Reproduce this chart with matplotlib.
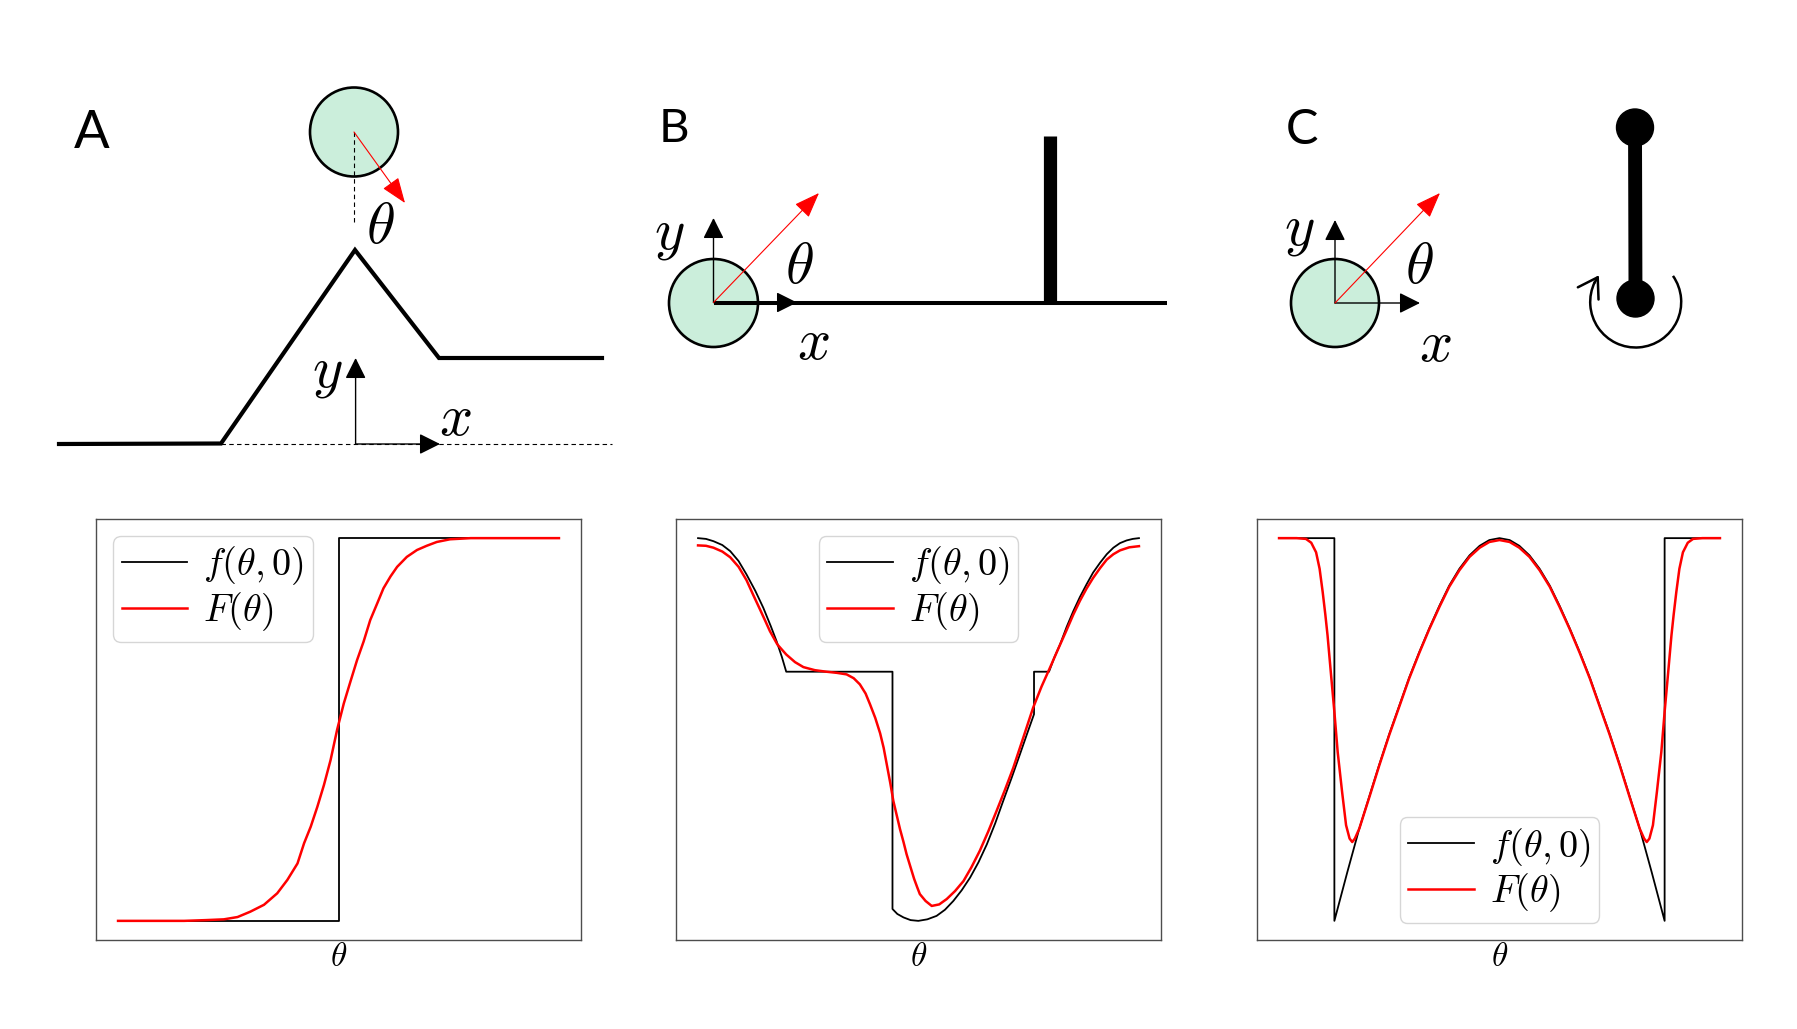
import numpy as np
import matplotlib
matplotlib.use("Agg")
import matplotlib.pyplot as plt
from matplotlib.patches import Ellipse, Circle, Arc

plt.rcParams['mathtext.fontset'] = 'cm'

# ---------------- curve data (normalised theta -> normalised value) ----------------
A_f_theta = [0.0, 0.5, 0.5, 1.0]
A_f_val = [0.0, 0.0, 1.0, 1.0]
A_F_theta = [0.000, 0.150, 0.200, 0.240, 0.271, 0.300, 0.331, 0.361, 0.384, 0.407, 0.422,
             0.437, 0.452, 0.467, 0.482, 0.497, 0.512, 0.527, 0.542, 0.557, 0.572, 0.588,
             0.602, 0.618, 0.633, 0.655, 0.678, 0.700, 0.723, 0.753, 0.800, 0.850, 1.000]
A_F_val = [0.000, 0.000, 0.002, 0.004, 0.010, 0.024, 0.042, 0.072, 0.107, 0.150, 0.203,
           0.246, 0.298, 0.355, 0.420, 0.500, 0.568, 0.625, 0.681, 0.730, 0.786, 0.830,
           0.869, 0.900, 0.925, 0.951, 0.969, 0.980, 0.990, 0.997, 1.000, 1.000, 1.000]

B_f_theta = [0.000, 0.018, 0.035, 0.055, 0.073, 0.092, 0.110, 0.130, 0.148, 0.165, 0.178,
             0.190, 0.200, 0.441, 0.441, 0.452, 0.466, 0.482, 0.4996, 0.520, 0.541, 0.560,
             0.579, 0.598, 0.617, 0.636, 0.655, 0.674, 0.692, 0.711, 0.730, 0.746, 0.762,
             0.762, 0.796, 0.808, 0.821, 0.836, 0.851, 0.866, 0.881, 0.896, 0.912, 0.927,
             0.942, 0.957, 0.972, 0.986, 1.000]
B_f_val = [1.000, 0.998, 0.992, 0.982, 0.966, 0.940, 0.905, 0.862, 0.818, 0.770, 0.731,
           0.690, 0.651, 0.651, 0.031, 0.018, 0.009, 0.002, 0.000, 0.004, 0.013, 0.029,
           0.052, 0.080, 0.113, 0.153, 0.200, 0.255, 0.313, 0.373, 0.435, 0.488, 0.540,
           0.651, 0.651, 0.688, 0.722, 0.768, 0.809, 0.846, 0.879, 0.910, 0.936, 0.958,
           0.975, 0.987, 0.994, 0.998, 1.000]
B_F_theta = [0.000, 0.018, 0.035, 0.055, 0.073, 0.092, 0.110, 0.125, 0.140, 0.152, 0.163,
             0.180, 0.200, 0.220, 0.239, 0.265, 0.291, 0.315, 0.337, 0.353, 0.367, 0.380,
             0.390, 0.402, 0.413, 0.421, 0.428, 0.436, 0.443, 0.451, 0.458, 0.466, 0.473,
             0.482, 0.490, 0.497, 0.503, 0.516, 0.530, 0.547, 0.564, 0.583, 0.602, 0.620,
             0.639, 0.658, 0.677, 0.696, 0.715, 0.738, 0.760, 0.779, 0.798, 0.817, 0.836,
             0.851, 0.866, 0.881, 0.896, 0.912, 0.927, 0.942, 0.957, 0.978, 1.000]
B_F_val = [0.981, 0.980, 0.975, 0.965, 0.950, 0.925, 0.890, 0.852, 0.815, 0.785, 0.757,
           0.722, 0.696, 0.676, 0.663, 0.655, 0.651, 0.648, 0.644, 0.634, 0.618, 0.594,
           0.566, 0.530, 0.490, 0.452, 0.409, 0.360, 0.313, 0.274, 0.240, 0.206, 0.174,
           0.140, 0.110, 0.088, 0.070, 0.052, 0.039, 0.043, 0.057, 0.078, 0.104, 0.140,
           0.183, 0.233, 0.287, 0.342, 0.400, 0.480, 0.557, 0.612, 0.661, 0.711, 0.760,
           0.800, 0.836, 0.868, 0.896, 0.922, 0.944, 0.958, 0.968, 0.976, 0.979]

C_f_theta = [0.0, 0.1255, 0.1255, 0.155, 0.182, 0.205, 0.227, 0.250, 0.273, 0.295, 0.318,
             0.341, 0.364, 0.386, 0.409, 0.432, 0.455, 0.477, 0.500, 0.523, 0.545, 0.568,
             0.591, 0.614, 0.636, 0.659, 0.682, 0.705, 0.727, 0.750, 0.773, 0.795, 0.818,
             0.845, 0.8745, 0.8745, 1.0]
C_f_val = [1.0, 1.0, 0.0, 0.128, 0.241, 0.326, 0.407, 0.488, 0.563, 0.635, 0.702,
           0.765, 0.824, 0.876, 0.920, 0.955, 0.980, 0.995, 1.000, 0.995, 0.980, 0.955,
           0.920, 0.876, 0.824, 0.765, 0.702, 0.635, 0.563, 0.488, 0.407, 0.326, 0.241,
           0.128, 0.0, 1.0, 1.0]
C_F_theta = [0.000, 0.040, 0.061, 0.073, 0.084, 0.092, 0.099, 0.105, 0.110, 0.114, 0.118,
             0.1255, 0.133, 0.143, 0.152, 0.160, 0.166, 0.172, 0.182, 0.205, 0.227, 0.250,
             0.273, 0.295, 0.318, 0.341, 0.364, 0.386, 0.409, 0.432, 0.455, 0.477, 0.500,
             0.523, 0.545, 0.568, 0.591, 0.614, 0.636, 0.659, 0.682, 0.705, 0.727, 0.750,
             0.773, 0.795, 0.818, 0.828, 0.834, 0.840, 0.848, 0.857, 0.867, 0.8745, 0.882,
             0.886, 0.890, 0.895, 0.901, 0.908, 0.916, 0.927, 0.939, 0.960, 1.000]
C_F_val = [1.000, 1.000, 0.998, 0.988, 0.963, 0.920, 0.859, 0.800, 0.746, 0.694, 0.642,
           0.546, 0.441, 0.337, 0.250, 0.215, 0.206, 0.215, 0.241, 0.324, 0.405, 0.486,
           0.561, 0.633, 0.700, 0.763, 0.821, 0.873, 0.916, 0.951, 0.975, 0.990, 0.995,
           0.990, 0.975, 0.951, 0.916, 0.873, 0.821, 0.763, 0.700, 0.633, 0.561, 0.486,
           0.405, 0.324, 0.241, 0.215, 0.206, 0.215, 0.250, 0.337, 0.441, 0.546, 0.642,
           0.694, 0.746, 0.800, 0.859, 0.920, 0.963, 0.988, 0.998, 1.000, 1.000]

legend_locs = ['upper left', 'upper center', 'lower center']
xlabel_text = r'$\theta$'
f_label = r'$f(\theta,0)$'
F_label = r'$F(\theta)$'

# ---------------- schematic geometry (figure pixel coordinates) ----------------
W, H = 1797, 1029
terrain_x = [59, 221, 355, 439, 602]
terrain_y = [444, 443.5, 250, 358, 358]
A_ball = (354, 132, 88, 89)          # cx, cy, width, height
A_dash_v = ([354, 354], [132, 223])
A_dash_h = ([221, 612], [444, 444])
A_origin = (355.6, 444)
A_yaxis_tip = (355.6, 358)
A_xaxis_tip = (440, 444)
A_red_tip = (405, 203)

B_ball = (713.5, 303, 89, 88)
B_floor = ([713.5, 1167], [302.5, 302.5])
B_wall = ([1050, 1050], [136, 302.5])
B_origin = (713.5, 302.5)
B_yaxis_tip = (713.5, 218)
B_xaxis_tip = (797, 302.5)
B_red_tip = (819, 193)

C_ball = (1335, 303, 88, 88)
C_origin = (1335, 303)
C_yaxis_tip = (1335, 220)
C_xaxis_tip = (1420, 303)
C_red_tip = (1440, 193)
pend_top = (1635, 127.5)
pend_bot = (1635.5, 298.5)
pend_r = 18.5
rot_center = (1635.7, 302)
rot_radius = 45.5
rot_theta1, rot_theta2, rot_tip = -35, 206, 216

labels_panel = [('A', 92, 134, 38), ('B', 674, 129, 34), ('C', 1302, 130, 35)]
labels_math = [(r'$\theta$', 380, 227), (r'$y$', 327, 371), (r'$x$', 455, 418),
               (r'$y$', 669, 233), (r'$\theta$', 799, 266), (r'$x$', 813, 343),
               (r'$y$', 1299, 230), (r'$\theta$', 1419, 266), (r'$x$', 1435, 344)]

green = '#cbeedb'

fig = plt.figure(figsize=(W / 100, H / 100), dpi=100)
fig.patch.set_facecolor('white')

# ---------------- bottom plots ----------------
ax_left = [96, 676, 1257]
ax_w, ax_top, ax_bot = 485, 519, 940
data = [(A_f_theta, A_f_val, A_F_theta, A_F_val),
        (B_f_theta, B_f_val, B_F_theta, B_F_val),
        (C_f_theta, C_f_val, C_F_theta, C_F_val)]
for i, (ft, fv, Ft, Fv) in enumerate(data):
    ax = fig.add_axes([ax_left[i] / W, 1 - ax_bot / H, ax_w / W, (ax_bot - ax_top) / H])
    ax.plot(ft, fv, color='black', lw=1.3, label=f_label)
    ax.plot(Ft, Fv, color='red', lw=1.8, label=F_label)
    ax.set_xticks([])
    ax.set_yticks([])
    ax.set_xlabel(xlabel_text, fontsize=24, labelpad=0)
    for sp in ax.spines.values():
        sp.set_color('0.3')
        sp.set_linewidth(1.0)
    ax.legend(loc=legend_locs[i], fontsize=27.5, labelspacing=0.08, borderpad=0.22,
              handlelength=1.72, handletextpad=0.42, borderaxespad=0.45)

# ---------------- schematic overlay ----------------
ax0 = fig.add_axes([0, 0, 1, 1])
ax0.set_xlim(0, W)
ax0.set_ylim(H, 0)
ax0.axis('off')
ax0.patch.set_alpha(0)


def axis_arrow(tip, origin, color='black', lw=1.0, ms=32, hw=0.2, z=5):
    ax0.annotate('', xy=tip, xytext=origin,
                 arrowprops=dict(arrowstyle='-|>,head_length=0.4,head_width=%g' % hw,
                                 color=color, lw=lw, mutation_scale=ms,
                                 shrinkA=0, shrinkB=0), zorder=z)


# Panel A
ax0.plot(terrain_x, terrain_y, color='black', lw=3.0, solid_joinstyle='miter', zorder=3)
ax0.plot(*A_dash_h, color='black', lw=0.8, ls=(0, (4, 3)), zorder=2)
ax0.add_patch(Ellipse(A_ball[:2], A_ball[2], A_ball[3], facecolor=green, edgecolor='black', lw=1.9, zorder=3))
ax0.plot(*A_dash_v, color='black', lw=0.8, ls=(0, (4, 3)), zorder=4)
axis_arrow(A_red_tip, A_ball[:2], color='red', lw=0.8, ms=40, hw=0.15)
axis_arrow(A_yaxis_tip, A_origin)
axis_arrow(A_xaxis_tip, A_origin)

# Panel B
ax0.add_patch(Ellipse(B_ball[:2], B_ball[2], B_ball[3], facecolor=green, edgecolor='black', lw=1.9, zorder=3))
ax0.plot(*B_floor, color='black', lw=2.9, solid_capstyle='butt', zorder=4)
ax0.plot(*B_wall, color='black', lw=9.5, solid_capstyle='butt', zorder=4)
axis_arrow(B_yaxis_tip, B_origin)
axis_arrow(B_xaxis_tip, B_origin)
axis_arrow(B_red_tip, B_origin, color='red', lw=0.8, ms=40, hw=0.15)

# Panel C
ax0.add_patch(Ellipse(C_ball[:2], C_ball[2], C_ball[3], facecolor=green, edgecolor='black', lw=1.9, zorder=3))
axis_arrow(C_yaxis_tip, C_origin)
axis_arrow(C_xaxis_tip, C_origin)
axis_arrow(C_red_tip, C_origin, color='red', lw=0.8, ms=40, hw=0.15)
ax0.plot([pend_top[0], pend_bot[0]], [pend_top[1], pend_bot[1]], color='black', lw=10,
         solid_capstyle='butt', zorder=3)
ax0.add_patch(Circle(pend_top, pend_r, color='black', zorder=4))
ax0.add_patch(Circle(pend_bot, pend_r, color='black', zorder=4))
ax0.add_patch(Arc(rot_center, 2 * rot_radius, 2 * rot_radius, theta1=rot_theta1,
                  theta2=rot_theta2, color='black', lw=1.8, zorder=4))
a0 = np.deg2rad(rot_theta2 - 1)
a1 = np.deg2rad(rot_tip)
p0 = (rot_center[0] + rot_radius * np.cos(a0), rot_center[1] + rot_radius * np.sin(a0))
p1 = (rot_center[0] + rot_radius * np.cos(a1), rot_center[1] + rot_radius * np.sin(a1))
ax0.annotate('', xy=p1, xytext=p0,
             arrowprops=dict(arrowstyle='->,head_length=0.5,head_width=0.32', color='black',
                             lw=1.8, mutation_scale=27, shrinkA=0, shrinkB=0), zorder=4)

for t, x, y, fs in labels_panel:
    ax0.text(x, y, t, fontsize=fs, family='Lato', ha='center', va='center', zorder=6)
for t, x, y in labels_math:
    ax0.text(x, y, t, fontsize=42, ha='center', va='center', zorder=6)

fig.savefig('out.png', dpi=100)
